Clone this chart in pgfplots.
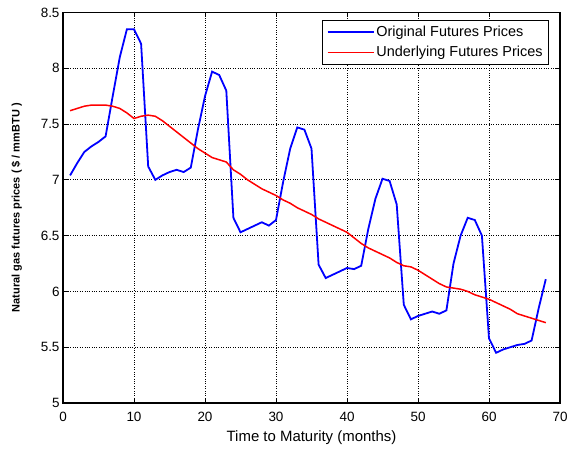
\documentclass[border=0pt]{standalone}
\usepackage{fontspec}
\setmainfont{Liberation Sans}
\usepackage{pgfplots}
\pgfplotsset{compat=1.18}
\begin{document}
\begin{tikzpicture}
\useasboundingbox (0,0) rectangle (567bp,449bp);
\begin{axis}[
  at={(63bp,46bp)}, anchor=south west,
  scale only axis, width=497bp, height=390.5bp,
  xmin=0, xmax=70, ymin=5, ymax=8.5,
  xtick={0,10,...,70}, ytick={5,5.5,...,8.5},
  /pgf/number format/assume math mode=true,
  tick label style={font=\fontsize{13.5}{15}\selectfont},
  xticklabel style={yshift=-6bp},
  tick align=inside, major tick length=5bp,
  tick style={black, line width=0.8pt},
  axis line style={black, line width=1.1pt},
  grid=major,
  major grid style={black, dotted, line width=0.9pt},
  xlabel={Time to Maturity (months)},
  ylabel={\bfseries Natural gas futures prices ( \$ / mmBTU )},
  xlabel style={font=\fontsize{15}{17}\selectfont, yshift=-2bp},
  ylabel style={font=\fontsize{11}{13}\selectfont, yshift=12bp},
  legend style={at={(axis description cs:0.978,0.981)}, anchor=north east,
    draw=black, line width=0.9pt, font=\fontsize{14.5}{16}\selectfont,
    row sep=4bp, inner xsep=4bp, inner ysep=4bp},
  legend cell align=left,
  legend image code/.code={\draw[mark repeat=2,mark phase=2,#1] plot coordinates {(0bp,0bp) (23bp,0bp) (46bp,0bp)};},
]
\addplot[blue, line width=1.8pt] coordinates {
(1,7.04)(2,7.15)(3,7.25)(4,7.30)(5,7.34)(6,7.39)(7,7.75)(8,8.10)(9,8.35)(10,8.35)
(11,8.22)(12,7.12)(13,7.00)(14,7.04)(15,7.07)(16,7.09)(17,7.07)(18,7.11)(19,7.45)(20,7.75)
(21,7.97)(22,7.94)(23,7.80)(24,6.66)(25,6.53)(26,6.56)(27,6.59)(28,6.62)(29,6.59)(30,6.64)
(31,6.98)(32,7.28)(33,7.47)(34,7.45)(35,7.28)(36,6.24)(37,6.12)(38,6.15)(39,6.18)(40,6.21)
(41,6.20)(42,6.23)(43,6.56)(44,6.83)(45,7.01)(46,6.99)(47,6.78)(48,5.88)(49,5.75)(50,5.78)
(51,5.80)(52,5.82)(53,5.80)(54,5.83)(55,6.25)(56,6.50)(57,6.66)(58,6.64)(59,6.50)(60,5.58)
(61,5.45)(62,5.48)(63,5.50)(64,5.52)(65,5.53)(66,5.56)(67,5.85)(68,6.11)
};
\addlegendentry{Original Futures Prices}
\addplot[red, line width=1.5pt] coordinates {
(1,7.62)(2,7.64)(3,7.66)(4,7.67)(5,7.67)(6,7.67)(7,7.66)(8,7.64)(9,7.60)(10,7.55)
(11,7.57)(12,7.58)(13,7.57)(14,7.53)(15,7.48)(16,7.43)(17,7.38)(18,7.33)(19,7.28)(20,7.24)
(21,7.20)(22,7.18)(23,7.16)(24,7.09)(25,7.05)(26,7.00)(27,6.96)(28,6.92)(29,6.89)(30,6.86)
(31,6.82)(32,6.79)(33,6.75)(34,6.72)(35,6.69)(36,6.65)(37,6.62)(38,6.59)(39,6.56)(40,6.53)
(41,6.48)(42,6.43)(43,6.39)(44,6.36)(45,6.33)(46,6.30)(47,6.26)(48,6.23)(49,6.22)(50,6.19)
(51,6.15)(52,6.11)(53,6.07)(54,6.04)(55,6.03)(56,6.02)(57,6.00)(58,5.97)(59,5.95)(60,5.93)
(61,5.90)(62,5.87)(63,5.84)(64,5.80)(65,5.78)(66,5.76)(67,5.74)(68,5.72)
};
\addlegendentry{Underlying Futures Prices}
\end{axis}
\end{tikzpicture}
\end{document}
